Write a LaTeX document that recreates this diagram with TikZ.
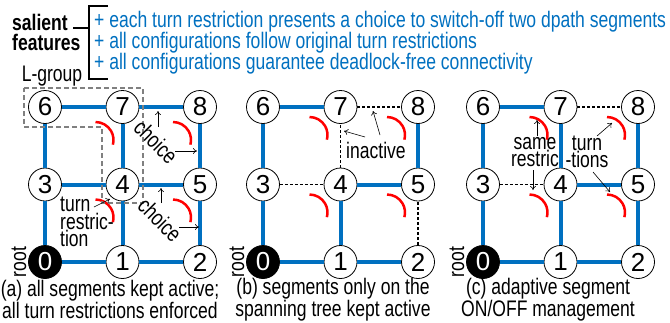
\documentclass[tikz,border=0pt]{standalone}
\usepackage{fontspec}
\setmainfont{Liberation Sans}[FakeStretch=0.78]
\newfontfamily\numfont{Liberation Sans}
\usetikzlibrary{arrows.meta, calc}

\definecolor{segblue}{RGB}{0,112,192}
\definecolor{boxgray}{RGB}{128,128,128}

\newcommand{\txt}{\fontsize{22.5}{16}\selectfont}

\tikzset{
  vtx/.style={circle, draw, line width=0.8pt, fill=white, minimum size=33pt, inner sep=0pt,
    font=\numfont\fontsize{26}{26}\selectfont},
  rootvtx/.style={vtx, fill=black, text=white},
  seg/.style={draw=segblue, line width=4pt},
  offseg/.style={draw=black, line width=1.5pt, dash pattern=on 3pt off 2pt},
  turn/.style={draw=red, line width=2.5pt},
  note/.style={-{To[length=4pt,width=6pt]}, line width=0.6pt},
  lbl/.style={font=\txt, inner sep=1pt, align=center},
}

\begin{document}
\begin{tikzpicture}[x=1pt, y=-1pt]
    \useasboundingbox (0,0) rectangle (670,322);

    % header
    \node[lbl, font=\fontsize{22.5}{20}\selectfont\bfseries, align=left, anchor=west] (sal) at (11,32) {salient\\features};
    \draw[line width=2.5pt] (108,6) -- (89,6) -- (89,79) -- (108,79);
    \draw[line width=2pt] (73,28) -- (89,28);
    \node[lbl, text=segblue, anchor=west] (h1) at (93,22) {+ each turn restriction presents a choice to switch-off two dpath segments};
    \node[lbl, text=segblue, anchor=west] (h2) at (93,43) {+ all configurations follow original turn restrictions};
    \node[lbl, text=segblue, anchor=west] (h3) at (93,64) {+ all configurations guarantee deadlock-free connectivity};

    % routers of the three panels
    \foreach \p/\ox in {a/45, b/263, c/483} {
        \node[rootvtx] (\p0) at (\ox, 262) {0};
        \foreach \n in {1,...,8} {
            \pgfmathtruncatemacro\i{mod(\n,3)}
            \pgfmathtruncatemacro\j{div(\n,3)}
            \node[vtx] (\p\n) at (\ox+77.5*\i, 262-77.5*\j) {\n};
        }
    }

    % dpath segments
    \foreach \u/\v in {0/1, 1/2, 3/4, 4/5, 6/7, 7/8, 0/3, 3/6, 1/4, 4/7, 2/5, 5/8}
        \draw[seg] (a\u) -- (a\v);
    \foreach \u/\v in {0/1, 1/2, 0/3, 3/6, 6/7, 1/4, 4/5, 5/8}
        \draw[seg] (b\u) -- (b\v);
    \foreach \u/\v in {7/8, 4/7, 3/4, 2/5}
        \draw[offseg] (b\u) -- (b\v);
    \foreach \u/\v in {0/1, 1/2, 0/3, 3/6, 6/7, 1/4, 4/7, 4/5, 2/5, 5/8}
        \draw[seg] (c\u) -- (c\v);
    \foreach \u/\v in {7/8, 3/4}
        \draw[offseg] (c\u) -- (c\v);

    % turn restrictions
    \foreach \p/\dx/\dy in {a/-27/15, b/-31/10, c/-31/10}
        \foreach \n in {4,5,7,8}
            \draw[turn] ($(\p\n)+(\dx,\dy)$) arc[start angle=-90, end angle=15, radius=18];

    % panel (a)
    \node[lbl] (lg) at (52,76) {L-group};
    \draw[boxgray, line width=2pt, dash pattern=on 5pt off 3pt]
        (24,88) -- (143,88) -- (143,203) -- (102,203) -- (102,127) -- (24,127) -- cycle;
    \node[lbl, rotate=-45] (ch1) at (156,142) {choice};
    \node[lbl, rotate=-45] (ch2) at (160,220) {choice};
    \coordinate (ch1u) at (158,111);
    \coordinate (ch1r) at (197,151);
    \coordinate (ch2u) at (161,188);
    \coordinate (ch2r) at (199,227);
    \draw[note] ([shift={(2,-15)}]ch1.center) -- (ch1u);
    \draw[note] ([shift={(19,9)}]ch1.center) -- (ch1r);
    \draw[note] ([shift={(1,-17)}]ch2.center) -- (ch2u);
    \draw[note] ([shift={(19,7)}]ch2.center) -- (ch2r);
    \node[lbl, align=left, anchor=west] (tr) at (59,222) {turn\\restric-\\tion};
    \coordinate (trh) at (110,199);
    \draw[note] ([shift={(35,-15)}]tr.west) -- (trh);
    \node[lbl, rotate=90] (rt) at (19,262) {root};
    \node[lbl, font=\fontsize{22.5}{18}\selectfont] (capa) at (110,299.5) {(a) all segments kept active;\\all turn restrictions enforced};

    % panel (b)
    \node[lbl] (ina) at (376,150) {inactive};
    \coordinate (inah1) at (344,131);
    \coordinate (inah2) at (373,111);
    \draw[note] ([shift={(-11,-13)}]ina.center) -- (inah1);
    \draw[note] ([shift={(4,-15)}]ina.center) -- (inah2);
    \node[lbl, rotate=90] (rtb) at (237,262) {root};
    \node[lbl, font=\fontsize{22.5}{18}\selectfont] (capb) at (333,299.5) {(b) segments only on the\\spanning tree kept active};

    % panel (c)
    \node[lbl] (same) at (535,152) {same\\restric};
    \node[lbl] (turn) at (587,152) {turn\\-tions};
    \coordinate (sah1) at (537,120);
    \coordinate (sah2) at (533,190);
    \coordinate (tuh1) at (612,123);
    \coordinate (tuh2) at (610,192);
    \draw[note] ([shift={(2,-16)}]same.center) -- (sah1);
    \draw[note] ([shift={(-2,18)}]same.center) -- (sah2);
    \draw[note] ([shift={(10,-16)}]turn.center) -- (tuh1);
    \draw[note] ([shift={(6,20)}]turn.center) -- (tuh2);
    \node[lbl, rotate=90] (rtc) at (457,262) {root};
    \node[lbl, font=\fontsize{22.5}{18}\selectfont] (capc) at (548,299.5) {(c) adaptive segment\\ON/OFF management};
\end{tikzpicture}
\end{document}
